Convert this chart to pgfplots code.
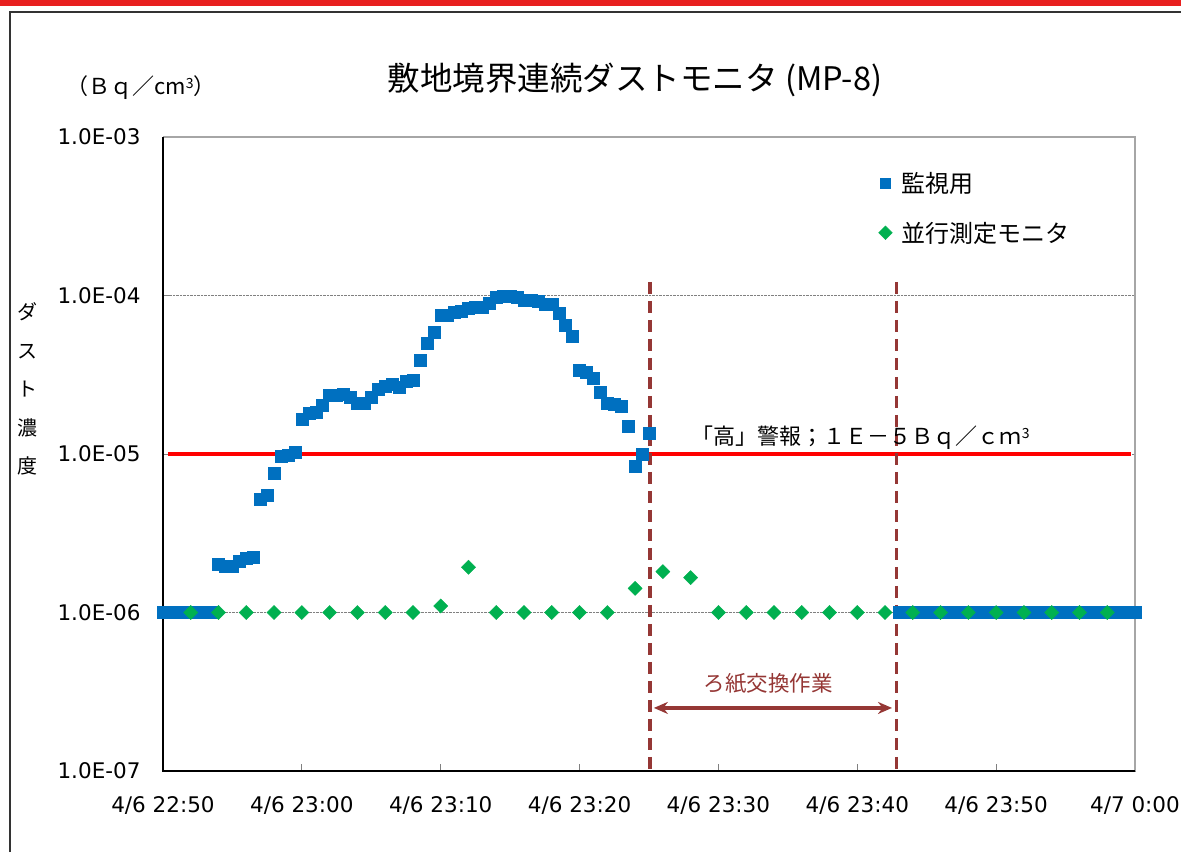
\documentclass[border=0pt]{standalone}
\usepackage{fontspec}
\setmainfont{DejaVu Sans}
\newfontfamily\jp{Noto Sans CJK JP}
\usepackage{pgfplots}
\pgfplotsset{compat=1.18}
\usetikzlibrary{arrows.meta}
\definecolor{mblue}{HTML}{0070C0}
\definecolor{mgreen}{HTML}{00B050}
\definecolor{dred}{HTML}{953735}
\definecolor{barred}{HTML}{E8201F}
\begin{document}
\begin{tikzpicture}
\path[use as bounding box] (0pt,0pt) rectangle (1181pt,852pt);
\fill[barred] (0pt,845.5pt) rectangle (1181pt,852pt);
\draw[line width=2pt, black!80] (10pt,0pt) -- (10pt,840pt) -- (1181pt,840pt);
\node[font=\jp\fontsize{32.5}{38}\selectfont] at (635pt,772pt) {敷地境界連続ダストモニタ (MP-8)};
\node[font=\jp\fontsize{22}{26}\selectfont] at (141pt,764pt) {（Ｂｑ／cm\raisebox{0.55ex}{\fontsize{14}{14}\selectfont 3}）};
\node[font=\jp\fontsize{20}{38.5}\selectfont, align=center] at (27pt,463pt) {ダ\\ス\\ト\\濃\\度};
\begin{axis}[
  at={(163pt,81pt)}, anchor=south west,
  scale only axis, width=972pt, height=634pt,
  xmin=0, xmax=70, ymode=log, ymin=1e-7, ymax=1e-3,
  clip=false,
  axis line style={draw=none},
  xtick={0,10,...,70},
  xticklabels={4/6 22:50,4/6 23:00,4/6 23:10,4/6 23:20,4/6 23:30,4/6 23:40,4/6 23:50,4/7 0:00},
  ytick={1e-7,1e-6,1e-5,1e-4,1e-3},
  yticklabels={1.0E-07,1.0E-06,1.0E-05,1.0E-04,1.0E-03},
  minor ytick={},
  log basis y=10,
  xtick pos=bottom, ytick pos=left,
  tick align=inside, major tick length=7pt,
  tick style={gray, line width=0.8pt},
  ymajorgrids, major grid style={densely dotted, gray, line width=0.7pt},
  xticklabel style={font=\fontsize{21.5}{25}\selectfont, yshift=-22pt},
  yticklabel style={font=\fontsize{21.5}{25}\selectfont, xshift=-19pt},
  legend style={at={(rel axis cs:0.733,0.951)}, anchor=north west, draw=none, fill=none,
    font=\jp\fontsize{24}{29}\selectfont, row sep=24pt,
    nodes={inner xsep=9pt}},
  legend cell align=left,
  legend image post style={mark size=4.8pt},
]
\addplot[red, line width=3.5pt, forget plot] coordinates {(0.36,1e-5) (69.7,1e-5)};
\addplot[only marks, mark=square*, mark size=6pt, color=mblue] coordinates {
(0,1e-6)(0.5,1e-6)(1,1e-6)(1.5,1e-6)(2,1e-6)(2.5,1e-6)(3,1e-6)(3.5,1e-6)
(4,2.01e-6)(4.5,1.95e-6)(5,1.95e-6)(5.5,2.1e-6)(6,2.2e-6)(6.5,2.22e-6)
(7,5.2e-6)(7.5,5.5e-6)(8,7.6e-6)(8.5,9.7e-6)(9,9.9e-6)(9.5,1.03e-5)
(10,1.65e-5)(10.5,1.8e-5)(11,1.83e-5)(11.5,2.02e-5)(12,2.34e-5)(12.5,2.34e-5)
(13,2.4e-5)(13.5,2.27e-5)(14,2.1e-5)(14.5,2.1e-5)(15,2.27e-5)(15.5,2.55e-5)
(16,2.67e-5)(16.5,2.75e-5)(17,2.63e-5)(17.5,2.9e-5)(18,2.93e-5)(18.5,3.9e-5)
(19,5.0e-5)(19.5,5.9e-5)(20,7.5e-5)(20.5,7.5e-5)(21,7.8e-5)(21.5,8.0e-5)
(22,8.3e-5)(22.5,8.4e-5)(23,8.5e-5)(23.5,9.0e-5)(24,9.7e-5)(24.5,9.9e-5)
(25,9.9e-5)(25.5,9.7e-5)(26,9.4e-5)(26.5,9.3e-5)(27,9.2e-5)(27.5,8.8e-5)
(28,8.8e-5)(28.5,7.7e-5)(29,6.5e-5)(29.5,5.5e-5)(30,3.37e-5)(30.5,3.3e-5)
(31,3.0e-5)(31.5,2.44e-5)(32,2.1e-5)(32.5,2.05e-5)(33,2.0e-5)(33.5,1.5e-5)
(34,8.4e-6)(34.5,1.0e-5)(35,1.35e-5)
(53,1e-6)(53.5,1e-6)(54,1e-6)(54.5,1e-6)(55,1e-6)(55.5,1e-6)(56,1e-6)(56.5,1e-6)
(57,1e-6)(57.5,1e-6)(58,1e-6)(58.5,1e-6)(59,1e-6)(59.5,1e-6)(60,1e-6)(60.5,1e-6)
(61,1e-6)(61.5,1e-6)(62,1e-6)(62.5,1e-6)(63,1e-6)(63.5,1e-6)(64,1e-6)(64.5,1e-6)
(65,1e-6)(65.5,1e-6)(66,1e-6)(66.5,1e-6)(67,1e-6)(67.5,1e-6)(68,1e-6)(68.5,1e-6)
(69,1e-6)(69.5,1e-6)(70,1e-6)
};
\addlegendentry{監視用}
\addplot[only marks, mark=square*, mark size=5pt, color=mgreen, every mark/.append style={rotate=45}] coordinates {
(2,1e-6)(4,1e-6)(6,1e-6)(8,1e-6)(10,1e-6)(12,1e-6)(14,1e-6)(16,1e-6)(18,1e-6)
(20,1.1e-6)(22,1.93e-6)(24,1e-6)(26,1e-6)(28,1e-6)(30,1e-6)(32,1e-6)
(34,1.42e-6)(36,1.81e-6)(38,1.66e-6)(40,1e-6)(42,1e-6)(44,1e-6)(46,1e-6)
(48,1e-6)(50,1e-6)(52,1e-6)(54,1e-6)(56,1e-6)(58,1e-6)(60,1e-6)(62,1e-6)
(64,1e-6)(66,1e-6)(68,1e-6)
};
\addlegendentry{並行測定モニタ}
\draw[dred, line width=3.2pt, dash pattern=on 12pt off 7pt] (axis cs:35.07,1.22e-4) -- (axis cs:35.07,1e-7);
\draw[dred, line width=3.2pt, dash pattern=on 12pt off 7pt] (axis cs:52.8,1.22e-4) -- (axis cs:52.8,1e-7);
\draw[dred, line width=3.2pt, {Stealth[length=14pt,width=12pt]}-{Stealth[length=14pt,width=12pt]}] (axis cs:35.35,2.5e-7) -- (axis cs:52.5,2.5e-7);
\node[dred, font=\jp\fontsize{21.5}{25}\selectfont] at (axis cs:43.6,3.54e-7) {ろ紙交換作業};
\node[font=\jp\fontsize{22}{26}\selectfont] at (axis cs:50.25,1.26e-5) {「高」警報；１Ｅ－５Ｂｑ／ｃｍ\raisebox{0.55ex}{\fontsize{14}{14}\selectfont 3}};
\draw[gray!70, line width=2pt] (rel axis cs:0,1) -- (rel axis cs:1,1) -- (rel axis cs:1,0);
\draw[black, line width=1.5pt] (rel axis cs:0,1) -- (rel axis cs:0,0) -- (rel axis cs:1,0);
\end{axis}
\end{tikzpicture}
\end{document}
